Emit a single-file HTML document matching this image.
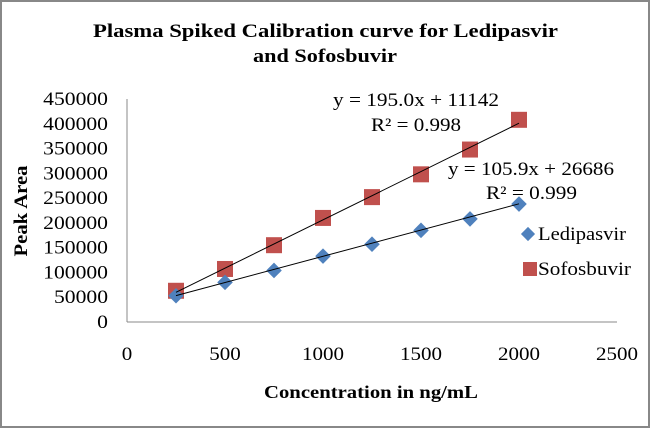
<!DOCTYPE html>
<html><head><meta charset="utf-8"><style>
body{margin:0;background:#fff}
svg{display:block;font-family:"Liberation Serif",serif}
</style></head><body>
<svg width="651" height="429">
<rect x="1" y="1" width="648" height="426" fill="#fff" stroke="#888" stroke-width="2"/>
<text x="93" y="37" font-size="19" font-weight="bold" textLength="465" lengthAdjust="spacingAndGlyphs">Plasma Spiked Calibration curve for Ledipasvir</text>
<text x="253" y="62" font-size="19" font-weight="bold" textLength="144" lengthAdjust="spacingAndGlyphs">and Sofosbuvir</text>
<text transform="translate(27,211) rotate(-90)" text-anchor="middle" font-size="19" font-weight="bold" textLength="91" lengthAdjust="spacingAndGlyphs">Peak Area</text>
<text x="264" y="398" font-size="18" font-weight="bold" textLength="214" lengthAdjust="spacingAndGlyphs">Concentration in ng/mL</text>
<g id="axes"></g>
<g id="marks"></g>
<text x="333" y="106" font-size="19" textLength="166" lengthAdjust="spacingAndGlyphs">y = 195.0x + 11142</text>
<text x="371" y="131" font-size="19" textLength="90" lengthAdjust="spacingAndGlyphs">R² = 0.998</text>
<text x="448" y="175" font-size="19" textLength="166" lengthAdjust="spacingAndGlyphs">y = 105.9x + 26686</text>
<text x="486" y="199" font-size="19" textLength="91" lengthAdjust="spacingAndGlyphs">R² = 0.999</text>
<g>
<rect x="523" y="229" width="10" height="10" fill="#4f81bd" transform="rotate(45 528 234)"/>
<text x="538" y="240" font-size="19" textLength="88" lengthAdjust="spacingAndGlyphs">Ledipasvir</text>
<rect x="523" y="262" width="14" height="14" fill="#c0504d"/>
<text x="538" y="275" font-size="19" textLength="93" lengthAdjust="spacingAndGlyphs">Sofosbuvir</text>
</g>
</svg>
<script>
const xs=[250,500,750,1000,1250,1500,1750,2000];
const ledipasvir=[53000,80000,104000,133000,157000,185000,208000,238000];
const sofosbuvir=[63000,107000,155000,210000,252000,298000,348000,408000];
const xTicks=[0,500,1000,1500,2000,2500];
const yTicks=[0,50000,100000,150000,200000,250000,300000,350000,400000,450000];
const ledFit=[105.9,26686];
const sofFit=[195.0,11142];
const NS="http://www.w3.org/2000/svg";
const X=v=>127+v/2500*490;
const Y=v=>322-v/450000*223;
function mk(t,a,p){const e=document.createElementNS(NS,t);for(const k in a)e.setAttribute(k,a[k]);p.appendChild(e);return e;}
const ax=document.getElementById('axes'),mg=document.getElementById('marks');
let l=mk('line',{x1:127,y1:99,x2:127,y2:322,stroke:'#888'},ax);


l=mk('line',{x1:127,y1:322,x2:617,y2:322,stroke:'#888'},ax);


yTicks.forEach(v=>{const s=String(v);const w=s.length*10.8;const t=mk('text',{x:108-w,y:Y(v)+6,'font-size':19,textLength:w,lengthAdjust:'spacingAndGlyphs'},ax);t.textContent=s;

});
xTicks.forEach(v=>{const s=String(v);const w=s.length*10.5;const t=mk('text',{x:X(v)-w/2,y:360,'font-size':19,textLength:w,lengthAdjust:'spacingAndGlyphs'},ax);t.textContent=s;

});
function trend(f,name){const x0=xs[0],x1=xs[xs.length-1];const e=mk('line',{x1:X(x0),y1:Y(f[0]*x0+f[1]),x2:X(x1),y2:Y(f[0]*x1+f[1]),stroke:'#000','stroke-width':1},mg);

}
sofosbuvir.forEach((v,i)=>{const e=mk('rect',{x:X(xs[i])-8,y:Y(v)-8,width:16,height:16,fill:'#c0504d'},mg);

});
ledipasvir.forEach((v,i)=>{const cx=X(xs[i]),cy=Y(v);const e=mk('rect',{x:cx-5.5,y:cy-5.5,width:11,height:11,fill:'#4f81bd',transform:`rotate(45 ${cx} ${cy})`},mg);

});
trend(sofFit,'sofosbuvir-trendline');
trend(ledFit,'ledipasvir-trendline');
</script>
</body></html>
